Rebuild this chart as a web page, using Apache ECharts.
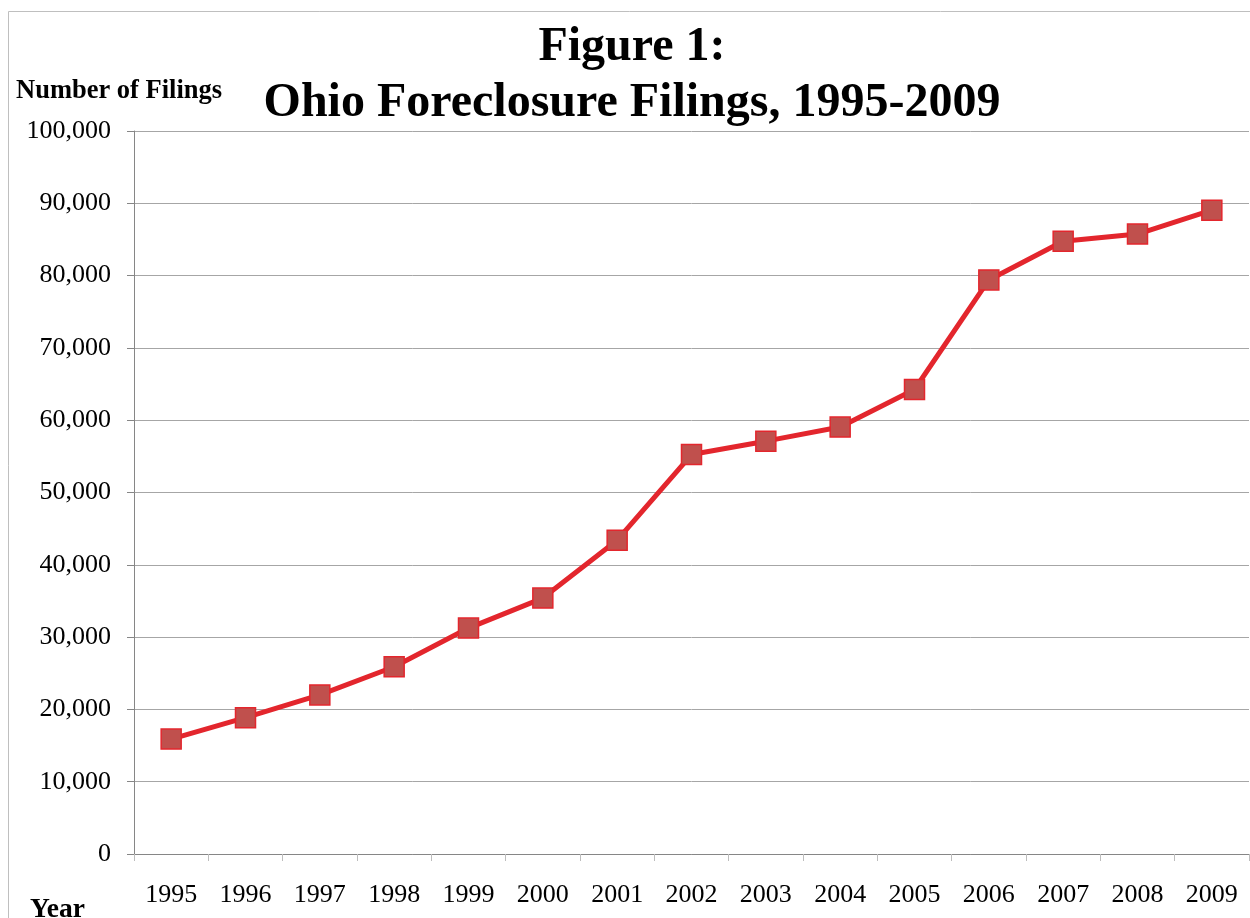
<!DOCTYPE html>
<html>
<head>
<meta charset="utf-8">
<script src="https://cdn.jsdelivr.net/npm/echarts@6/dist/echarts.min.js"></script>
<style>
  html, body { margin: 0; padding: 0; background: #fff; }
  #chart { width: 1250px; height: 918px; }
</style>
</head>
<body>
<div id="chart"></div>
<script>
  // data
  var years = ['1995', '1996', '1997', '1998', '1999', '2000', '2001', '2002',
               '2003', '2004', '2005', '2006', '2007', '2008', '2009'];
  var filings = [15900, 18850, 22000, 25900, 31250, 35400, 43400, 55250,
                 57100, 59050, 64250, 79400, 84750, 85750, 89050];
  var yTicks = { min: 0, max: 100000, interval: 10000 };

  var serif = '"Liberation Serif", "DejaVu Serif", serif';
  var chart = echarts.init(document.getElementById('chart'));

  chart.setOption({
    animation: false,
    backgroundColor: '#fff',
    title: {
      text: 'Figure 1:\nOhio Foreclosure Filings, 1995-2009',
      left: 627,
      textAlign: 'center',
      top: 15,
      textStyle: {
        fontFamily: serif,
        fontSize: 48,
        fontWeight: 'bold',
        color: '#000',
        lineHeight: 56
      }
    },
    graphic: [
      {
        type: 'rect',
        shape: { x: 8.5, y: 11.5, width: 1300, height: 1000 },
        style: { fill: 'none', stroke: '#bfbfbf', lineWidth: 1 },
        silent: true
      },
      {
        type: 'text',
        left: 16,
        top: 78,
        style: { text: 'Number of Filings', font: 'bold 26.5px ' + serif, fill: '#000' }
      },
      {
        type: 'text',
        left: 30,
        top: 896,
        style: { text: 'Year', font: 'bold 27.5px ' + serif, fill: '#000' }
      }
    ],
    grid: { left: 134, right: 1, top: 131, bottom: 64, containLabel: false },
    xAxis: {
      type: 'category',
      data: years,
      boundaryGap: true,
      axisLine: { lineStyle: { color: '#868686', width: 1 } },
      axisTick: { show: true, length: 7, alignWithLabel: false, lineStyle: { color: '#bdbdbd' } },
      axisLabel: { fontFamily: serif, fontSize: 26, color: '#000', margin: 28 },
      splitLine: { show: false }
    },
    yAxis: {
      type: 'value',
      min: yTicks.min,
      max: yTicks.max,
      interval: yTicks.interval,
      axisLine: { show: true, lineStyle: { color: '#868686', width: 1 } },
      axisTick: { show: true, length: 7, lineStyle: { color: '#868686' } },
      axisLabel: {
        fontFamily: serif,
        fontSize: 26,
        color: '#000',
        margin: 23,
        formatter: function (v) { return v.toLocaleString('en-US'); }
      },
      splitLine: { show: true, lineStyle: { color: '#a6a6a6', width: 1 } }
    },
    series: [{
      type: 'line',
      data: filings,
      symbol: 'rect',
      symbolSize: 20,
      showAllSymbol: true,
      lineStyle: { color: '#E3262D', width: 5 },
      itemStyle: { color: '#C0504D', borderColor: '#E3262D', borderWidth: 1.5 },
      z: 3
    }]
  });
</script>
</body>
</html>
